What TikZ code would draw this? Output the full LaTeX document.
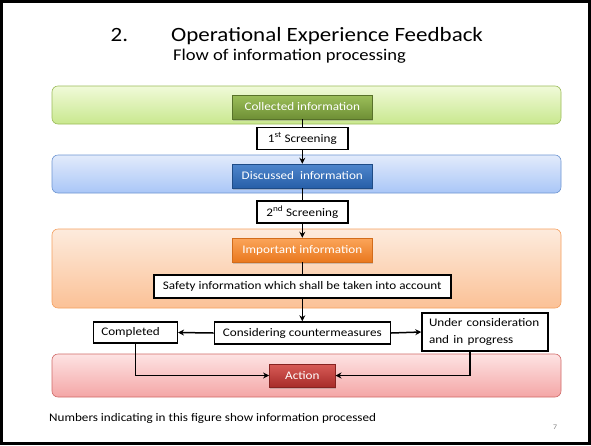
\documentclass[tikz,border=0pt]{standalone}
\usepackage{fontspec}
\usepackage{graphicx}
\setmainfont{Carlito}
\usetikzlibrary{arrows.meta,shadows,calc}
\newcommand{\hstr}[1]{\scalebox{1.132}[1]{#1}}
\definecolor{gband1}{HTML}{F0FAD9}
\definecolor{gband2}{HTML}{C9E88E}
\definecolor{gbord}{HTML}{9BBB59}
\definecolor{gbtn1}{HTML}{9CBF5A}
\definecolor{gbtn2}{HTML}{6E8F35}
\definecolor{bband1}{HTML}{E2EBFB}
\definecolor{bband2}{HTML}{A9C6F7}
\definecolor{bbord}{HTML}{6D95D2}
\definecolor{bbtn1}{HTML}{4F86CC}
\definecolor{bbtn2}{HTML}{275FA8}
\definecolor{oband1}{HTML}{FDEBDD}
\definecolor{oband2}{HTML}{FBC196}
\definecolor{obord}{HTML}{F5A060}
\definecolor{obtn1}{HTML}{FBA55A}
\definecolor{obtn2}{HTML}{E9781E}
\definecolor{rband1}{HTML}{FDE3E3}
\definecolor{rband2}{HTML}{F4A6A6}
\definecolor{rbord}{HTML}{D06A68}
\definecolor{rbtn1}{HTML}{D75B57}
\definecolor{rbtn2}{HTML}{A82C29}
\tikzset{
  band/.style={rounded corners=6pt, minimum width=509pt, line width=0.6pt, inner sep=0pt},
  btn/.style={minimum height=24pt, inner sep=0pt, text=white, font=\fontsize{11.6}{13}\selectfont,
    drop shadow={shadow xshift=1pt, shadow yshift=-1.5pt, opacity=0.35}},
  wbox/.style={draw=black, line width=1.5pt, fill=white, inner sep=0pt, font=\fontsize{11.6}{13.5}\selectfont},
  conn/.style={line width=1.5pt},
  arr/.style={line width=1.5pt, -{Stealth[length=6pt,width=6pt]}}
}
\begin{document}
\begin{tikzpicture}[x=1pt,y=-1pt]
\useasboundingbox (0,0) rectangle (591,445);
\fill[white] (0,0) rectangle (591,445);
\draw[line width=2.4pt] (1.5,1.5) rectangle (589.5,443.5);
% titles
\node[font=\fontsize{20.3}{22}\selectfont, anchor=base west, inner sep=0pt] (t1) at (110.5,41.5) {\hstr{2.}};
\node[font=\fontsize{20.3}{22}\selectfont, anchor=base west, inner sep=0pt] (t2) at (171,41.5) {\hstr{Operational Experience Feedback}};
\node[font=\fontsize{16.4}{18}\selectfont, anchor=base west, inner sep=0pt] (t3) at (173,60) {\hstr{Flow of information processing}};
% bands
\node[band, minimum height=38pt, top color=gband1, bottom color=gband2, draw=gbord] (gband) at (306.5,105) {};
\node[band, minimum height=38pt, top color=bband1, bottom color=bband2, draw=bbord] (bband) at (306.5,174) {};
\node[band, minimum height=79pt, top color=oband1, bottom color=oband2, draw=obord] (oband) at (306.5,268.5) {};
\node[band, minimum height=43pt, top color=rband1, bottom color=rband2, draw=rbord] (rband) at (306.5,375.5) {};
% buttons
\node[btn, minimum width=140pt, top color=gbtn1, bottom color=gbtn2, draw=gbtn2!80!black, line width=0.4pt] (coll) at (302.3,107) {\hstr{Collected information}};
\node[btn, minimum width=140pt, top color=bbtn1, bottom color=bbtn2, draw=bbtn2!80!black, line width=0.4pt] (disc) at (302.3,176) {\hstr{Discussed\ \ information}};
\node[btn, minimum width=140pt, top color=obtn1, bottom color=obtn2, draw=obtn2!90!black, line width=0.4pt] (imp) at (302.3,250) {\hstr{Important information}};
\node[btn, minimum width=66pt, minimum height=23pt, top color=rbtn1, bottom color=rbtn2, draw=rbtn2!80!black, line width=0.4pt] (act) at (302.3,375.5) {\hstr{Action}};
% white boxes
\node[wbox, minimum width=91pt, minimum height=22pt] (s1) at (302.3,138.5) {\hstr{1\textsuperscript{st} Screening}};
\node[wbox, minimum width=91pt, minimum height=22pt] (s2) at (302.3,212) {\hstr{2\textsuperscript{nd} Screening}};
\node[wbox, minimum width=297pt, minimum height=23pt] (safe) at (302.3,286.5) {\hstr{Safety information which shall be taken into account}};
\node[wbox, minimum width=176pt, minimum height=22pt] (cons) at (302.3,333) {\hstr{Considering countermeasures}};
\node[wbox, minimum width=84pt, minimum height=21pt, text width=68pt, align=left] (comp) at (135.3,332.5) {\hstr{Completed}};
\node[wbox, minimum width=126pt, minimum height=38pt, text width=112pt, align=left, font=\fontsize{11.6}{17}\selectfont] (under) at (485,332) {\hstr{Under consideration}\\\hstr{and in progress}};
% connectors
\draw[conn] (coll.south) -- (s1.north);
\draw[arr] (s1.south) -- (disc.north);
\draw[conn] (disc.south) -- (s2.north);
\draw[arr] (s2.south) -- (imp.north);
\draw[conn] (imp.south) -- (safe.north);
\draw[arr] (safe.south) -- (cons.north);
\draw[arr] (cons.west) -- (comp.east);
\draw[arr] (cons.east) -- (under.west);
\draw[arr] (comp.south) |- (act.west);
\draw[arr] ([xshift=-15.2pt]under.south) |- (act.east);
% footer
\node[font=\fontsize{11.6}{13}\selectfont, anchor=base west, inner sep=0pt] (foot) at (49,421) {\hstr{Numbers indicating in this figure show information processed}};
\node[font=\fontsize{7}{8}\selectfont, text=gray] (pg) at (555,427) {\hstr{7}};
\end{tikzpicture}
\end{document}
